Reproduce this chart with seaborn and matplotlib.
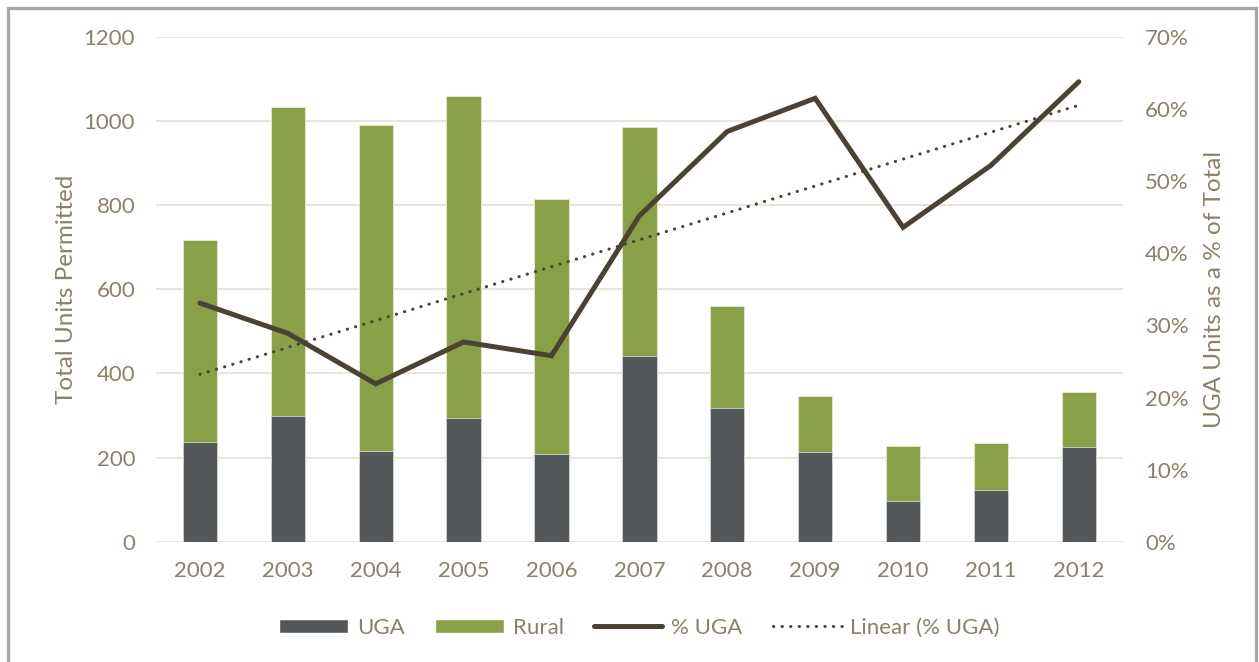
import numpy as np
import pandas as pd
import matplotlib
matplotlib.use("Agg")
import matplotlib.pyplot as plt
import seaborn as sns
from matplotlib.patches import Patch, Rectangle
from matplotlib.lines import Line2D
from matplotlib.ticker import PercentFormatter

years = ["2002", "2003", "2004", "2005", "2006", "2007", "2008", "2009", "2010", "2011", "2012"]
uga_units = [238, 299, 216, 293, 208, 442, 317, 213, 97, 122, 226]
rural_units = [479, 734, 774, 767, 607, 544, 243, 134, 131, 113, 131]
pct_uga = [0.331, 0.289, 0.219, 0.277, 0.258, 0.452, 0.569, 0.615, 0.436, 0.522, 0.638]

UGA_COLOR = "#54585b"
RURAL_COLOR = "#89a046"
LINE_COLOR = "#4a4234"
TEXT_COLOR = "#8b816a"
GRID_COLOR = "#e4e0d6"
DOTS = (0, (0.1, 2.7))

df = pd.DataFrame({
    "year": years,
    "pos": np.arange(len(years)),
    "uga": uga_units,
    "rural": rural_units,
    "pct": pct_uga,
})
df["total"] = df["uga"] + df["rural"]

# Excel style linear trendline fitted on the % UGA series
slope, intercept = np.polyfit(df["pos"], df["pct"], 1)
df["trend"] = intercept + slope * df["pos"]

sns.set_theme(style="white")
plt.rcParams["font.family"] = ["Lato", "DejaVu Sans"]

fig = plt.figure(figsize=(12.59, 6.62), dpi=100)
ax = fig.add_axes([0.1239, 0.1817, 0.7679, 0.7624])

sns.barplot(data=df, x="year", y="total", color=RURAL_COLOR, width=0.39,
            saturation=1, ax=ax, order=years, linewidth=0.6, edgecolor="#e8ead8")
sns.barplot(data=df, x="year", y="uga", color=UGA_COLOR, width=0.39,
            saturation=1, ax=ax, order=years, linewidth=0.6, edgecolor="#d8d8d2")

ax.set_xlim(-0.5, len(years) - 0.5)
ax.set_ylim(0, 1200)
ax.set_yticks(range(0, 1201, 200))
ax.yaxis.grid(True, color=GRID_COLOR, linewidth=1.2)
ax.set_axisbelow(True)
for s in ax.spines.values():
    s.set_visible(False)
ax.tick_params(axis="both", length=0, labelsize=16, colors=TEXT_COLOR)
ax.tick_params(axis="x", pad=14)
ax.tick_params(axis="y", pad=15)
ax.set_xlabel("")
ax.set_ylabel("Total Units Permitted", fontsize=17.5, color=TEXT_COLOR, labelpad=5)

ax2 = ax.twinx()
sns.lineplot(data=df, x="pos", y="pct", color=LINE_COLOR, linewidth=3.6,
             ax=ax2, solid_capstyle="round", solid_joinstyle="miter")
sns.lineplot(data=df, x="pos", y="trend", color=LINE_COLOR, linewidth=2.2,
             linestyle=DOTS, dash_capstyle="round", ax=ax2)
ax2.set_xlim(-0.5, len(years) - 0.5)
ax2.set_ylim(0, 0.7)
ax2.set_yticks(np.arange(0, 0.71, 0.1))
ax2.yaxis.set_major_formatter(PercentFormatter(1.0, decimals=0))
for s in ax2.spines.values():
    s.set_visible(False)
ax2.tick_params(axis="y", length=0, labelsize=16, colors=TEXT_COLOR, pad=16)
ax2.set_xlabel("")
ax2.set_ylabel("UGA Units as a % of Total", fontsize=17.5, color=TEXT_COLOR, labelpad=11)

handles = [
    Patch(facecolor=UGA_COLOR, label="UGA"),
    Patch(facecolor=RURAL_COLOR, label="Rural"),
    Line2D([0], [0], color=LINE_COLOR, linewidth=3.6, solid_capstyle="round", label="% UGA"),
    Line2D([0], [0], color=LINE_COLOR, linewidth=2.2, linestyle=DOTS,
           dash_capstyle="round", label="Linear (% UGA)"),
]
leg = fig.legend(handles=handles, loc="center", bbox_to_anchor=(0.508, 0.052), ncol=4,
                 frameon=False, fontsize=16, handlelength=3.1, handleheight=0.6,
                 handletextpad=0.4, columnspacing=1.35)
for t in leg.get_texts():
    t.set_color(TEXT_COLOR)

# grey frame around the chart, bottom edge cut off like the source image
fig.patches.append(Rectangle((8 / 1259, -0.02), 1248 / 1259, 1.02 - 8 / 662,
                             transform=fig.transFigure, fill=False,
                             edgecolor="#a6a6a6", linewidth=2.4, zorder=10))

fig.savefig("out.png", dpi=100)
